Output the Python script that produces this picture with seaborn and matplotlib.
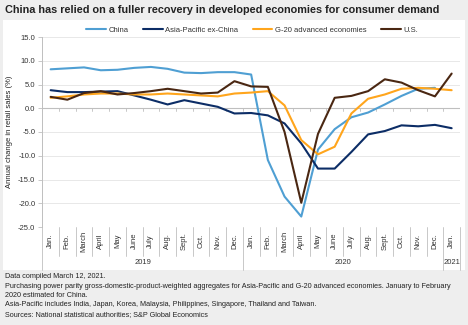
import numpy as np
import pandas as pd
import matplotlib
matplotlib.use("Agg")
import matplotlib.pyplot as plt
import matplotlib.transforms as mtransforms
from matplotlib.patches import Rectangle
from matplotlib.lines import Line2D
import seaborn as sns

sns.set_theme(style="white")
plt.rcParams["font.family"] = ["Liberation Sans", "DejaVu Sans"]

# Month labels, Jan. 2019 through Jan. 2021
months = ["Jan.", "Feb.", "March", "April", "May", "June", "July", "Aug.",
          "Sept.", "Oct.", "Nov.", "Dec."]
month_labels = months + months + ["Jan."]
years = ["2019", "2020", "2021"]

# Annual change in retail sales (%)
china = [8.2, 8.4, 8.6, 8.0, 8.1, 8.5, 8.7, 8.3, 7.5, 7.4, 7.6, 7.6,
         7.1, -10.9, -18.6, -22.8, -8.7, -4.4, -1.9, -0.9, 0.8, 2.6, 4.1, 4.3,
         np.nan]
asia_pac = [3.8, 3.4, 3.4, 3.5, 3.6, 2.7, 1.8, 0.8, 1.7, 1.0, 0.3, -1.1,
            -1.0, -1.5, -3.2, -7.4, -12.7, -12.7, -9.2, -5.5, -4.8, -3.6, -3.8, -3.5,
            -4.2]
g20 = [2.2, 2.5, 2.9, 3.1, 3.1, 2.9, 2.9, 3.1, 2.9, 2.7, 2.5, 3.1,
       3.3, 3.6, 0.6, -6.7, -9.7, -8.1, -1.1, 2.0, 2.9, 4.1, 4.3, 4.1,
       3.8]
us = [2.4, 1.8, 3.2, 3.6, 2.9, 3.2, 3.6, 4.1, 3.6, 3.1, 3.3, 5.7,
      4.6, 4.5, -5.0, -19.9, -5.4, 2.2, 2.6, 3.6, 6.1, 5.4, 3.8, 2.5,
      7.3]

series_names = ["China", "Asia-Pacific ex-China", "G-20 advanced economies", "U.S."]
colors = ["#4f9fd3", "#0c2d66", "#ffa51c", "#4a2712"]

frames = []
for name, vals in zip(series_names, [china, asia_pac, g20, us]):
    frames.append(pd.DataFrame({"idx": np.arange(len(vals)), "value": vals, "series": name}))
df = pd.concat(frames, ignore_index=True).dropna()

W, H = 468, 325
fig = plt.figure(figsize=(W / 100, H / 100), dpi=100, facecolor="#eeeeee")

# white chart panel
fig.patches.append(Rectangle((3 / W, 1 - 270 / H), 462 / W, 250 / H,
                             transform=fig.transFigure, facecolor="white",
                             edgecolor="none", zorder=-10))

left, right, top, bottom = 42.3, 460, 37, 227
ax = fig.add_axes([left / W, 1 - bottom / H, (right - left) / W, (bottom - top) / H])
ax.set_facecolor("none")
ax.set_zorder(5)

sns.lineplot(data=df, x="idx", y="value", hue="series", hue_order=series_names,
             palette=colors, linewidth=1.5, ax=ax, legend=False, sort=False)

n = len(month_labels)
ax.set_xlim(-0.5, n - 0.5)
ax.set_ylim(-25, 15)
ax.set_yticks(np.arange(-25, 16, 5))
ax.set_yticklabels([f"{v:.1f}" for v in np.arange(-25, 16, 5)], fontsize=5.5, color="#333333")
ax.yaxis.grid(True, color="#e8e8e8", linewidth=0.7)
ax.set_axisbelow(True)
ax.tick_params(axis="y", length=3, width=0.6, color="#bfbfbf", pad=2, left=True)
ax.set_xticks([])
ax.set_xlabel("")
ax.set_ylabel("Annual change in retail sales (%)", fontsize=5.5, color="#222222", labelpad=4)
for s in ["top", "right", "bottom"]:
    ax.spines[s].set_visible(False)
ax.spines["left"].set_color("#bfbfbf")
ax.spines["left"].set_linewidth(0.7)

# zero line with boundary ticks
ax.axhline(0, color="#bfbfbf", linewidth=0.8, zorder=1)
trans = mtransforms.blended_transform_factory(ax.transData, ax.transAxes)
ppa = 1 / (bottom - top)  # axes units per pixel
zero_ax = 25 / 40
for b in np.arange(-0.5, n, 1.0):
    ax.add_line(Line2D([b, b], [zero_ax, zero_ax - 3 * ppa], transform=trans,
                       color="#bfbfbf", linewidth=0.6, zorder=1))

# category axis: month boxes and year groups
year_bounds = [-0.5, 11.5, 23.5, 24.5]
for b in np.arange(-0.5, n, 1.0):
    full = b in year_bounds
    y_end = -(43 if full else 29) * ppa
    ax.add_line(Line2D([b, b], [0, y_end], transform=trans, color="#bfbfbf",
                       linewidth=0.6, clip_on=False))
for i, lab in enumerate(month_labels):
    ax.text(i, -14 * ppa, lab, transform=trans, rotation=90, ha="center",
            va="center", fontsize=5.5, color="#333333")
for yr, a, b in zip(years, year_bounds[:-1], year_bounds[1:]):
    ax.text((a + b) / 2, -36 * ppa, yr, transform=trans, ha="center",
            va="center", fontsize=5.5, color="#333333")

# legend
handles = [Line2D([], [], color=c, linewidth=1.5) for c in colors]
fig.legend(handles, series_names, loc="center", bbox_to_anchor=(252 / W, 1 - 30 / H),
           ncol=4, frameon=False, fontsize=5.5, handlelength=2.6, handletextpad=0.3,
           columnspacing=1.9, labelcolor="#333333")

fig.text(5 / W, 1 - 10 / H,
         "China has relied on a fuller recovery in developed economies for consumer demand",
         fontsize=7.8, fontweight="bold", color="#222222", va="center", ha="left")

notes = [
    "Data compiled March 12, 2021.",
    "Purchasing power parity gross-domestic-product-weighted aggregates for Asia-Pacific and G-20 advanced economies. January to February",
    "2020 estimated for China.",
    "Asia-Pacific includes India, Japan, Korea, Malaysia, Philippines, Singapore, Thailand and Taiwan.",
    "Sources: National statistical authorities; S&P Global Economics",
]
for k, line in enumerate(notes):
    fig.text(5 / W, 1 - (277 + 9.3 * k) / H, line, fontsize=5.2, color="#222222",
             va="center", ha="left")

fig.savefig("out.png", dpi=100, facecolor=fig.get_facecolor())
